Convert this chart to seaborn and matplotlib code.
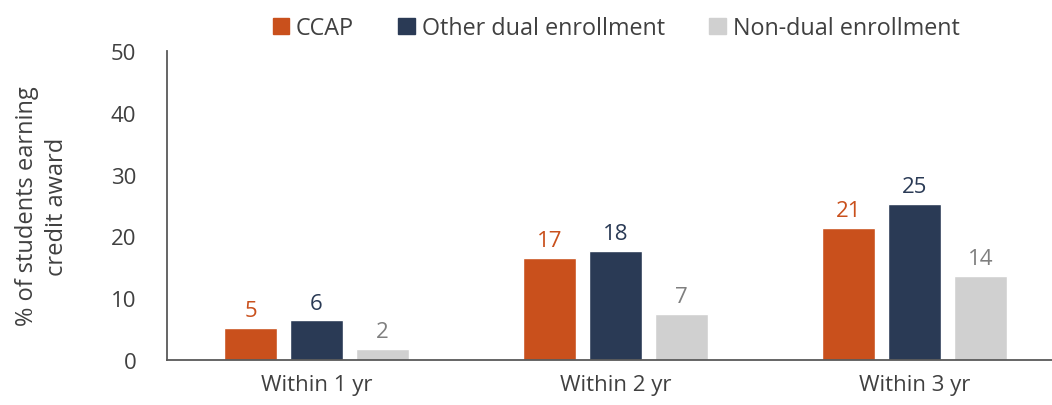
import matplotlib
matplotlib.use('Agg')
import matplotlib.pyplot as plt
import seaborn as sns
import pandas as pd

# data
periods = ['Within 1 yr', 'Within 2 yr', 'Within 3 yr']
groups = ['CCAP', 'Other dual enrollment', 'Non-dual enrollment']
ccap = [5.25, 16.5, 21.4]
other_dual = [6.4, 17.6, 25.2]
non_dual = [1.85, 7.4, 13.6]
ccap_labels = [5, 17, 21]
other_dual_labels = [6, 18, 25]
non_dual_labels = [2, 7, 14]

bar_colors = ['#C9501C', '#2A3A55', '#D0D0D0']
text_colors = ['#C9501C', '#2A3A55', '#7F7F7F']

df = pd.DataFrame({
    'period': periods * 3,
    'group': [g for g in groups for _ in periods],
    'value': ccap + other_dual + non_dual,
})
labels = ccap_labels + other_dual_labels + non_dual_labels

sns.set_style('white')
plt.rcParams['font.family'] = ['Open Sans', 'DejaVu Sans']
plt.rcParams['text.color'] = '#404040'

fig = plt.figure(figsize=(10.52, 4.06), dpi=100)
ax = fig.add_axes([167 / 1052, 45 / 406, 1 - 167 / 1052, 309 / 406])

sns.barplot(data=df, x='period', y='value', hue='group', hue_order=groups,
            palette=bar_colors, width=0.66, gap=0.2, saturation=1,
            legend=False, ax=ax)

# value labels above the bars
for i, cont in enumerate(ax.containers):
    for bar, lab in zip(cont, labels[i * 3:(i + 1) * 3]):
        ax.annotate(str(lab), (bar.get_x() + bar.get_width() / 2, bar.get_height()),
                    xytext=(0, 5), textcoords='offset points', ha='center', va='bottom',
                    fontsize=16, color=text_colors[i])

ax.set_ylim(0, 50)
ax.set_xlim(-0.5, 2.46)
ax.set_yticks([0, 10, 20, 30, 40, 50])
ax.tick_params(axis='both', length=0, labelsize=16, colors='#404040')
ax.tick_params(axis='y', pad=22)
ax.tick_params(axis='x', pad=10)
ax.set_xlabel('')
ax.set_ylabel('% of students earning\ncredit award', fontsize=17, color='#404040',
              labelpad=30, linespacing=1.35)

sns.despine(ax=ax)
for s in ['left', 'bottom']:
    ax.spines[s].set_color('#595959')
    ax.spines[s].set_linewidth(1.3)

handles = [plt.Rectangle((0, 0), 1, 1, color=c) for c in bar_colors]
fig.legend(handles, groups, loc='upper center', bbox_to_anchor=(616 / 1052, 1.01),
           ncol=3, frameon=False, fontsize=16.8, handlelength=0.7, handleheight=0.7,
           handletextpad=0.3, columnspacing=1.9)

fig.savefig('out.png', dpi=100)
